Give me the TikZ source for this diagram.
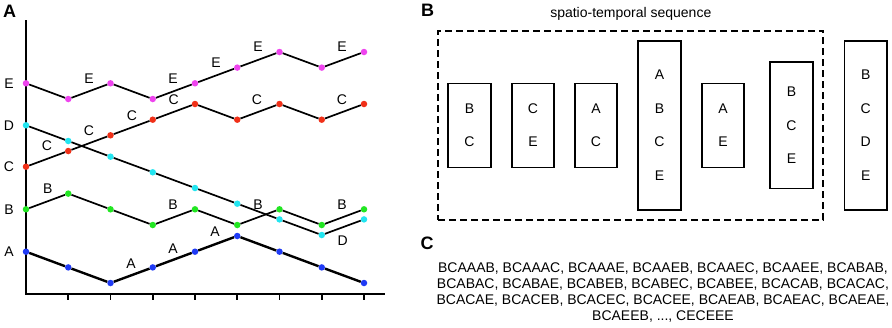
\documentclass[tikz,border=0pt]{standalone}
\usepackage{fontspec}
\setmainfont{Liberation Sans}
\usepackage{tikz}
\usetikzlibrary{positioning}
\definecolor{stE}{HTML}{EE44EE}
\definecolor{stC}{HTML}{F03018}
\definecolor{stD}{HTML}{22E5F0}
\definecolor{stB}{HTML}{22E622}
\definecolor{stA}{HTML}{1F3AF5}
\tikzset{
  panel/.style={font=\fontsize{18}{20}\selectfont\bfseries,inner sep=0pt},
  lbl/.style={font=\fontsize{14}{16}\selectfont,inner sep=0pt},
  dot/.style={circle,inner sep=0pt,minimum size=6.5pt,draw=none},
  trace/.style={line width=1.7pt,draw=black},
  axis/.style={line width=1.9pt},
  col/.style={draw,line width=1.6pt,minimum width=42.5pt,outer sep=0pt,inner sep=0pt,align=center,font=\fontsize{14}{33.6}\selectfont},
  frame/.style={draw,line width=1.8pt,dash pattern=on 7pt off 4pt,minimum width=385pt,minimum height=189.3pt,inner sep=0pt},
  title/.style={font=\fontsize{14}{16}\selectfont,inner sep=2pt},
}

\begin{document}
\begin{tikzpicture}[x=1pt,y=-1pt]
  \useasboundingbox (0,0) rectangle (892,327);

  % panel A: axes
  \node[panel] (pa) at (9.5,11.7) {A};
  \coordinate (ytop) at (26,20);
  \coordinate (orig) at (26,294);
  \coordinate (xend) at (385,294);
  \draw[axis] (ytop) -- (orig) -- (xend);
  \foreach \i in {1,...,8}
    \draw[axis] ({26+42.25*\i},294) -- ++(0,6);

  \node[lbl] (ye) at (9,83.3) {E};
  \node[lbl] (yd) at (9,125.3) {D};
  \node[lbl] (yc) at (9,166.7) {C};
  \node[lbl] (yb) at (9,209.3) {B};
  \node[lbl] (ya) at (9,251.7) {A};

  % traces
  \foreach \s/\c/\w/\ys in {
    e/stE/1.7pt/{83.3,99,83.3,99,83.3,67.6,52,67.6,52},
    c/stC/1.7pt/{166.7,151,135.3,119.7,104,119.7,104,119.7,104},
    d/stD/1.7pt/{125.3,141,156.7,172.3,188,203.7,219.4,235,219.4},
    b/stB/1.7pt/{209.3,193.6,209.3,225,209.3,225,209.3,225,209.3},
    a/stA/2.4pt/{251.7,267.4,283,267.4,251.7,236,251.7,267.4,283}}{
    \foreach \y [count=\i from 0] in \ys
      \node[dot,fill=\c] (\s\i) at ({26+42.25*\i},\y) {};
    \foreach \i [count=\j from 1] in {0,...,7}
      \draw[trace,line width=\w] (\s\i) -- (\s\j);
  }

  % letters on the traces
  \foreach \p [count=\k] in {(89,79),(173,79),(216,62.7),(258,47),(342,47)}
    \node[lbl] (le\k) at \p {E};
  \foreach \p [count=\k] in {(47,146),(89,130.7),(132,115.7),(173.7,99.3),(257,99.3),(342,99.3)}
    \node[lbl] (lc\k) at \p {C};
  \foreach \p [count=\k] in {(47.7,188.3),(173,205),(258,205),(342,205)}
    \node[lbl] (lb\k) at \p {B};
  \foreach \p [count=\k] in {(131,264),(173,248.3),(215,231.7)}
    \node[lbl] (la\k) at \p {A};
  \node[lbl] (ld1) at (342.7,241) {D};

  % panel B
  \node[panel] (pb) at (427.5,10) {B};
  \node[frame] (seq) at (630.8,125.35) {};
  \node[title,above=7pt of seq] (seqlbl) {spatio-temporal sequence};

  \node[col,minimum height=84pt] (w1) at (469.5,125.3) {B\\C};
  \node[col,minimum height=84pt,right=21pt of w1] (w2) {C\\E};
  \node[col,minimum height=84pt,right=20.5pt of w2] (w3) {A\\C};
  \node[col,minimum height=169pt,right=21pt of w3] (w4) {A\\B\\C\\E};
  \node[col,minimum height=84pt,right=21pt of w4] (w5) {A\\E};
  \node[col,minimum height=126.7pt,right=26pt of w5] (w6) {B\\C\\E};
  \node[col,minimum height=169pt,right=31.7pt of w6] (w7) {B\\C\\D\\E};

  % panel C
  \node[panel] (pc) at (427,243) {C};
  \node[title,align=center,inner sep=0pt] (seqlist) at (663,292.5)
    {BCAAAB, BCAAAC, BCAAAE, BCAAEB, BCAAEC, BCAAEE, BCABAB,\\
     BCABAC, BCABAE, BCABEB, BCABEC, BCABEE, BCACAB, BCACAC,\\
     BCACAE, BCACEB, BCACEC, BCACEE, BCAEAB, BCAEAC, BCAEAE,\\
     BCAEEB, ..., CECEEE};
\end{tikzpicture}
\end{document}
